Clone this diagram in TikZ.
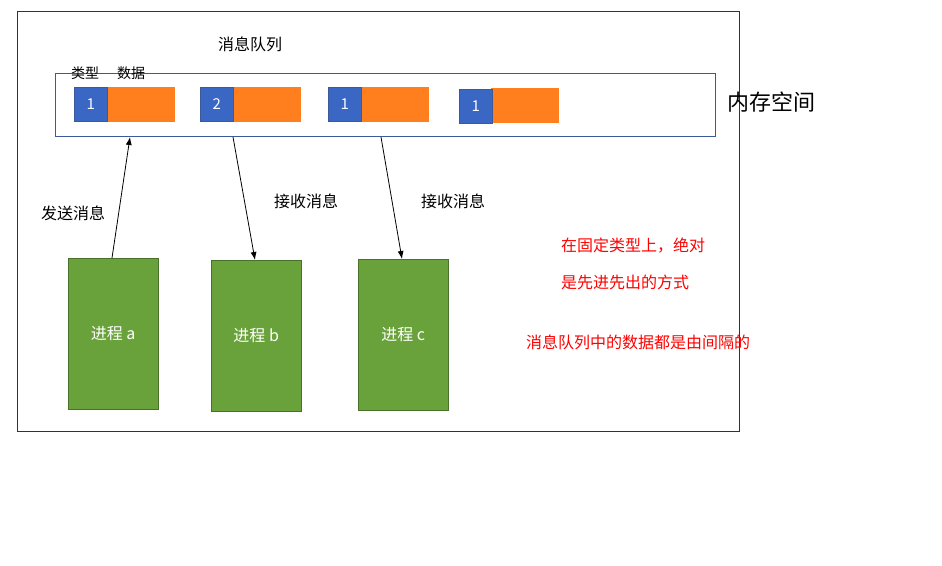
\documentclass[tikz,border=0pt]{standalone}
\usepackage{fontspec}
\setmainfont{Noto Sans CJK SC}
\usetikzlibrary{arrows.meta}
\definecolor{qblue}{HTML}{3A66C4}
\definecolor{qorange}{HTML}{FF7F1E}
\definecolor{pgreen}{HTML}{69A23A}
\definecolor{mblue}{HTML}{3B5A9A}
\tikzset{
 bsq/.style={draw=mblue,fill=qblue,text=white,minimum width=33pt,minimum height=34pt,inner sep=0,font=\fontsize{15}{16}\selectfont},
 osq/.style={fill=qorange,minimum width=68pt,minimum height=35pt,inner sep=0},
 proc/.style={draw=pgreen!70!black,fill=pgreen,text=white,minimum width=90pt,minimum height=151pt,inner sep=0,font=\fontsize{16}{18}\selectfont},
 lbl/.style={font=\fontsize{16}{18}\selectfont,inner sep=0},
 red/.style={lbl,text=red},
 arr/.style={-{Latex[length=8pt,width=6pt]},line width=0.8pt}
}
\begin{document}
\begin{tikzpicture}[x=1pt,y=-1pt]
\useasboundingbox[fill=white] (0,0) rectangle (942,565);
\node[draw=black!80,line width=0.8pt,minimum width=722pt,minimum height=420pt,inner sep=0,anchor=north west] (outer) at (17,11) {};
\node[draw=mblue,line width=1pt,minimum width=660pt,minimum height=63pt,inner sep=0,anchor=north west] (mem) at (55,73) {};
\node[lbl] (title) at (250,44) {消息队列};
\node[lbl,font=\fontsize{14}{15}\selectfont] (t1) at (85,73) {类型};
\node[lbl,font=\fontsize{14}{15}\selectfont] (t2) at (131,73) {数据};
\node[osq,anchor=north west] (o1) at (107,87) {};
\node[bsq,anchor=north west] (b1) at (74,87) {1};
\node[osq,anchor=north west] (o2) at (233,87) {};
\node[bsq,anchor=north west] (b2) at (200,87) {2};
\node[osq,anchor=north west] (o3) at (361,87) {};
\node[bsq,anchor=north west] (b3) at (328,87) {1};
\node[osq,anchor=north west] (o4) at (491,88) {};
\node[bsq,anchor=north west] (b4) at (459,89) {1};
\node[lbl,font=\fontsize{22}{24}\selectfont] (memlbl) at (771,102) {内存空间};
\node[proc,anchor=north west] (pa) at (68,258) {进程 a};
\node[proc,anchor=north west] (pb) at (211,260) {进程 b};
\node[proc,anchor=north west] (pc) at (358,259) {进程 c};
\coordinate (pat) at (112,258);
\coordinate (mina) at (130,137);
\coordinate (moutb) at (233,137);
\coordinate (pbt) at (255,260);
\coordinate (moutc) at (381,137);
\coordinate (pct) at (402,259);
\draw[arr] (pat) -- (mina);
\draw[arr] (moutb) -- (pbt);
\draw[arr] (moutc) -- (pct);
\node[lbl] (send) at (73,213) {发送消息};
\node[lbl] (recv1) at (306,201) {接收消息};
\node[lbl] (recv2) at (453,201) {接收消息};
\node[red,anchor=west] (r1) at (561,246) {在固定类型上，绝对};
\node[red,anchor=west] (r2) at (561,282) {是先进先出的方式};
\node[red,anchor=west] (r3) at (526,342) {消息队列中的数据都是由间隔的};
\end{tikzpicture}
\end{document}
